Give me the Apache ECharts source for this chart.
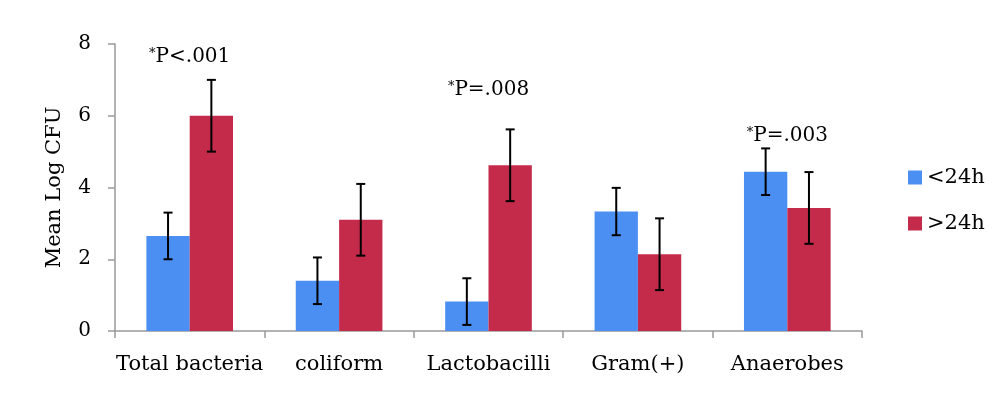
<!DOCTYPE html>
<html>
<head>
<meta charset="utf-8">
<script src="https://cdn.jsdelivr.net/npm/echarts@6/dist/echarts.min.js"></script>
<style>
  html, body { margin: 0; padding: 0; background: #fff; }
  #chart { width: 1000px; height: 398px; }
</style>
</head>
<body>
<div id="chart"></div>
<script>
const categories = ['Total bacteria', 'coliform', 'Lactobacilli', 'Gram(+)', 'Anaerobes']
const under24 = [2.65, 1.40, 0.82, 3.33, 4.44]
const under24Err = [0.65, 0.65, 0.65, 0.66, 0.65]
const over24 = [6.0, 3.10, 4.62, 2.14, 3.43]
const over24Err = [1.0, 1.0, 1.0, 1.0, 1.0]
const pLabels = [
  { cat: 'Total bacteria', y: 7.63, text: 'P<.001' },
  { cat: 'Lactobacilli', y: 6.71, text: 'P=.008' },
  { cat: 'Anaerobes', y: 5.43, text: 'P=.003' }
]
const yTicks = [0, 2, 4, 6, 8]

const FONT = 'DejaVu Serif'
const BLUE = '#4b8ff2'
const RED = '#c42b4b'
const GAP = 0.42

const errorSeries = (values, errs, side) => ({
  type: 'custom',
  silent: true,
  z: 10,
  data: values.map((v, i) => [i, v - errs[i], v + errs[i]]),
  renderItem: (params, api) => {
    const band = api.size([1, 0])[0]
    const bw = band * (1 - GAP) / 2
    const lo = api.coord([api.value(0), api.value(1)])
    const hi = api.coord([api.value(0), api.value(2)])
    const x = lo[0] + side * bw / 2
    const cap = 4.5
    const style = { stroke: '#000', lineWidth: 2 }
    return {
      type: 'group',
      children: [
        { type: 'line', shape: { x1: x, y1: lo[1], x2: x, y2: hi[1] }, style },
        { type: 'line', shape: { x1: x - cap, y1: lo[1], x2: x + cap, y2: lo[1] }, style },
        { type: 'line', shape: { x1: x - cap, y1: hi[1], x2: x + cap, y2: hi[1] }, style }
      ]
    }
  }
})

// p-value annotations drawn as text elements anchored at data coords
const pSeries = {
  type: 'custom',
  silent: true,
  z: 20,
  data: pLabels.map(p => [p.cat, p.y, p.text]),
  renderItem: (params, api) => {
    const pt = api.coord([api.value(0), api.value(1)])
    const item = pLabels[params.dataIndex]
    return {
      type: 'text',
      x: pt[0],
      y: pt[1],
      style: {
        text: '{s|*}{t|' + item.text + '}',
        align: 'center',
        verticalAlign: 'middle',
        fill: '#000',
        rich: {
          s: { fontFamily: FONT, fontSize: 13, fill: '#000', verticalAlign: 'top', padding: [0, 0, 6, 0] },
          t: { fontFamily: FONT, fontSize: 20, fill: '#000' }
        }
      }
    }
  }
}

const chart = echarts.init(document.getElementById('chart'))
chart.setOption({
  animation: false,
  textStyle: { fontFamily: FONT },
  grid: { left: 115, right: 138, top: 44, bottom: 67 },
  legend: {
    orient: 'vertical',
    left: 903,
    top: 162,
    itemWidth: 14,
    itemHeight: 14,
    itemGap: 25,
    icon: 'rect',
    textStyle: { fontFamily: FONT, fontSize: 21, color: '#000' },
    data: ['<24h', '>24h']
  },
  xAxis: {
    type: 'category',
    data: categories,
    axisLine: { lineStyle: { color: '#999', width: 1.5 } },
    axisTick: { show: true, length: 7, lineStyle: { color: '#999', width: 1.5 } },
    axisLabel: { interval: 0, fontFamily: FONT, fontSize: 21, color: '#000', margin: 23 }
  },
  yAxis: {
    type: 'value',
    min: 0,
    max: 8,
    interval: 2,
    name: 'Mean Log CFU',
    nameLocation: 'middle',
    nameGap: 50,
    nameTextStyle: { fontFamily: FONT, fontSize: 21, color: '#000' },
    splitLine: { show: false },
    axisLine: { show: true, lineStyle: { color: '#999', width: 1.5 } },
    axisTick: { show: true, length: 7, lineStyle: { color: '#999', width: 1.5 } },
    axisLabel: {
      fontFamily: FONT, fontSize: 20, color: '#000', margin: 24,
      formatter: v => yTicks.includes(v) ? String(v) : ''
    }
  },
  series: [
    {
      name: '<24h', type: 'bar', data: under24,
      barGap: '0%', barCategoryGap: (GAP * 100) + '%',
      itemStyle: { color: BLUE }
    },
    {
      name: '>24h', type: 'bar', data: over24,
      barGap: '0%', barCategoryGap: (GAP * 100) + '%',
      itemStyle: { color: RED }
    },
    errorSeries(under24, under24Err, -1),
    errorSeries(over24, over24Err, 1),
    pSeries
  ]
})
</script>
</body>
</html>
